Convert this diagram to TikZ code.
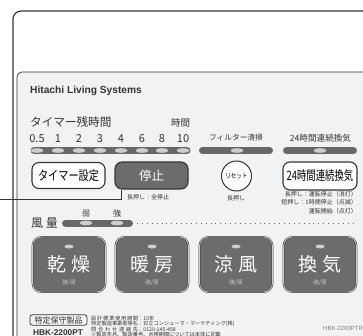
\documentclass[tikz,border=0pt]{standalone}
\usepackage{fontspec}
\usepackage{graphicx}
\setmainfont{Liberation Sans}
\newfontfamily\jp{Noto Sans CJK JP}
\usetikzlibrary{shapes.geometric}
\definecolor{panelgray}{HTML}{F1F2F4}
\definecolor{keygray}{HTML}{6C6C6C}
\definecolor{edgegray}{HTML}{353535}
\definecolor{ledgray}{HTML}{CDCDCD}
\definecolor{bargray}{HTML}{686868}
\definecolor{inkgray}{HTML}{333333}
\tikzstyle{frame} = [draw=edgegray, line width=1.2pt, rounded corners=8pt]
\tikzstyle{panel} = [draw=edgegray, line width=0.7pt, fill=panelgray, rounded corners=5pt]
\tikzstyle{bar} = [line width=7pt, line cap=round, color=bargray]
\tikzstyle{led} = [fill=ledgray]
\tikzstyle{whitekey} = [rectangle, rounded corners=7pt, draw=edgegray, line width=1.1pt,
                        fill=white, minimum width=73pt, minimum height=26pt, inner sep=0pt]
\tikzstyle{darkkey} = [rectangle, rounded corners=7pt, draw=edgegray, line width=1.1pt,
                       fill=keygray, text=white, minimum width=73pt, minimum height=27pt,
                       inner sep=0pt]
\tikzstyle{bigkey} = [rectangle, rounded corners=9pt, draw=edgegray, line width=0.5pt,
                      double=ledgray, double distance=0.8pt, fill=keygray,
                      minimum width=73pt, minimum height=55pt, inner sep=0pt]
\tikzstyle{keytext} = [text=white, inner sep=0pt, font=\jp\fontsize{19}{19}\selectfont]
\tikzstyle{subtext} = [text=ledgray, inner sep=0pt, font=\jp\fontsize{5.5}{6}\selectfont]
\tikzstyle{label} = [inner sep=0pt, text=inkgray]
\tikzstyle{note} = [inner sep=0pt, text=inkgray, font=\jp\fontsize{6}{8.5}\selectfont]
\tikzstyle{leader} = [draw=edgegray, line width=0.8pt]
\tikzstyle{dots} = [draw=bargray, line width=0.9pt, dash pattern=on 0.9pt off 4pt]
\newcommand{\drawKey}[4]
{
  \node (#1) [bigkey] at (#2,264.5) {};
  \fill [led] (#2,246.5) ellipse (4.5 and 2);
  \node (#1name) [keytext] at (#2,264) {#3\hspace{5pt}#4};
  \node (#1sub) [subtext] at (#2,283) {強/弱};
}
\newcommand{\spread}[2]{\makebox[#1][s]{#2}}
\begin{document}
\begin{tikzpicture}[x=1pt, y=-1pt]
\useasboundingbox (0,0) rectangle (363,336);
\clip (0,0) rectangle (363,336);

\draw [frame] (13,350) -- (13,11) -- (380,11);
\filldraw [panel] (17,350) -- (17,72) -- (380,72) -- (380,350) -- cycle;

\node (brand) [label, anchor=base west, font=\bfseries\fontsize{10.2}{12}\selectfont] at (30,94) {Hitachi Living Systems};
\node (timerlbl) [label, anchor=west, font=\jp\fontsize{11.6}{12}\selectfont] at (30,122.5) {タイマー残時間};
\node (hourlbl) [label, font=\jp\fontsize{9.5}{10}\selectfont] at (180.5,122.7) {時間};

\draw [bar] (34,150.5) -- (187,150.5);
\foreach \lbl/\x [count=\i] in {0.5/37, 1/58, 2/79, 3/100, 4/121, 6/142, 8/162, 10/183}
{
  \fill [led] (\x,150.5) ellipse (6.5 and 2.3);
  \node (hour\i) [label, anchor=base, font=\jp\fontsize{11}{11}\selectfont] at (\x,143) {\lbl};
}

\draw [bar] (202.5,150.5) -- (269.5,150.5);
\fill [led] (237,150.5) ellipse (6.5 and 2.3);
\node (filterlbl) [label, font=\jp\fontsize{7.7}{8}\selectfont] at (236,138) {フィルター清掃};

\draw [bar] (286.5,150.5) -- (353.5,150.5);
\fill [led] (320,150.5) ellipse (6.5 and 2.3);
\node (ventlbl) [label, font=\jp\fontsize{8.6}{9}\selectfont] at (320.5,138) {24時間連続換気};

\node (timerkey) [whitekey] at (68.5,175.5) {\scalebox{0.78}[1]{\jp\fontsize{13}{13}\selectfont タイマー設定}};
\node (stopkey) [darkkey] at (151.5,175.5) {\jp\fontsize{12.5}{13}\selectfont 停止};
\node (resetkey) [circle, draw=edgegray, line width=1pt, fill=white, minimum size=30pt, inner sep=0pt] at (236.5,176) {\scalebox{0.85}[1]{\jp\fontsize{6.5}{7}\selectfont リセット}};
\node (ventkey) [whitekey, minimum width=74pt, minimum height=28pt] at (320,176) {\scalebox{0.72}[1]{\jp\fontsize{13}{13}\selectfont 24時間連続換気}};

\node (stopnote) [note] at (148,197) {長押し：全停止};
\node (resetnote) [note] at (236,198) {長押し};
\node (ventnote) [note, anchor=north east, align=right] at (357,191) {長押し：運転停止（消灯）\\短押し：1時間停止（点滅）\\運転開始（点灯）};

\coordinate (leadstart) at (0,199);
\draw [leader] (leadstart) -| ([xshift=7pt]stopkey.south west);

\node (windlbl) [label, anchor=west, font=\jp\fontsize{12}{12}\selectfont] at (31,223) {風 量};
\draw [bar] (65.5,223) -- (129.5,223);
\fill [led] (86,223) ellipse (6.5 and 2.3);
\fill [led] (117,223) ellipse (6.5 and 2.3);
\node (weaklbl) [label, font=\jp\fontsize{8}{8}\selectfont] at (86,213.5) {弱};
\node (stronglbl) [label, font=\jp\fontsize{8}{8}\selectfont] at (117,213.5) {強};
\coordinate (windend) at (137,223);
\coordinate (dotend) at (357,223);
\draw [dots] (windend) -- (dotend);

\drawKey{kdry}{69}{乾}{燥}
\drawKey{kheat}{152}{暖}{房}
\drawKey{kcool}{236}{涼}{風}
\drawKey{kvent}{320}{換}{気}

\node (careprod) [rectangle, rounded corners=2.5pt, draw=edgegray, line width=0.7pt, minimum width=57pt, minimum height=10.5pt, inner sep=0pt, text=inkgray, font=\jp\fontsize{8}{8}\selectfont] at (58.5,320) {特定保守製品};
\node (model) [label, anchor=base, font=\bfseries\fontsize{8.3}{9}\selectfont] at (58,335.2) {HBK-2200PT};
\node (specs) [label, anchor=north west, align=left, font=\jp\fontsize{5.2}{5.1}\selectfont] at (91,315.5) {\spread{47pt}{設\hfill 計\hfill 標\hfill 準\hfill 使\hfill 用\hfill 期\hfill 間}：10年\\特定製造事業者等名：日立コンシューマ・マーケティング(株)\\\spread{47pt}{問\hfill 合\hfill わ\hfill せ\hfill 連\hfill 絡\hfill 先}：0120-145-458\\※製造年月、製造番号、点検期間については本体に記載};
\node (modelcode) [anchor=base west, inner sep=0pt, text=gray, font=\fontsize{6}{6}\selectfont] at (323,330.2) {HBK-2200PTR};

\end{tikzpicture}
\end{document}
